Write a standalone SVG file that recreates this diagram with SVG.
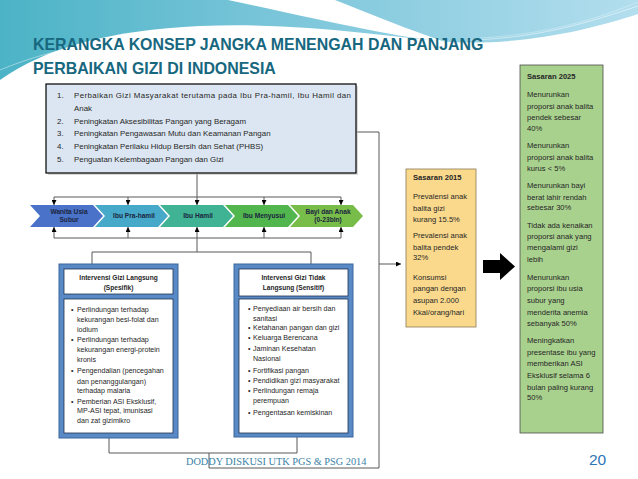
<svg xmlns="http://www.w3.org/2000/svg" width="638" height="479" viewBox="0 0 638 479">
<defs>
<linearGradient id="bandGrad" x1="0" y1="0" x2="1" y2="0">
<stop offset="0" stop-color="#4cb3c6"/>
<stop offset="0.45" stop-color="#7cc6da"/>
<stop offset="1" stop-color="#b3deee"/>
</linearGradient>
<marker id="arr" viewBox="0 0 6 6" refX="6" refY="3" markerWidth="5" markerHeight="5" markerUnits="userSpaceOnUse" orient="auto">
<path d="M0,0 L6,3 L0,6 Z" fill="#000"/>
</marker>
</defs>
<style>
.ln{fill:none;stroke:#595959;stroke-width:1}
.t{font-family:"Liberation Sans",Arial,sans-serif;fill:#262626}
.b{font-weight:bold}
.title{font-family:"Liberation Sans",Arial,sans-serif;font-weight:bold;font-size:15.9px;fill:#17677f}
.lst{font-size:7.9px}
.bl{font-size:7.1px}
.sm{font-size:7.6px}
.hd{font-size:6.6px;font-weight:bold;text-anchor:middle}
.ch{font-size:6.6px;font-weight:bold;text-anchor:middle;fill:#1a2540}
.outer{fill:#5a8ac6;stroke:#3b669c;stroke-width:1}
.inner{fill:#fff;stroke:#1f3350;stroke-width:0.8}
</style>
<rect width="638" height="479" fill="#fff"/>
<!-- background swoosh -->
<path d="M0,0 H638 V14 C590,30 520,46 450,42 C380,36 300,22 200,26 C110,30 45,48 0,80 Z" fill="url(#bandGrad)"/>
<path d="M228,0 L335,0 C370,14 410,30 445,42 C400,38 330,22 228,0 Z" fill="#fff"/>
<path d="M0,70 C60,45 130,34 230,32" fill="none" stroke="#fff" stroke-width="0.6" opacity="0.7"/>
<path d="M470,40 C540,38 590,22 638,6" fill="none" stroke="#fff" stroke-width="0.6" opacity="0.8"/>
<path d="M480,38 C550,34 600,18 638,2" fill="none" stroke="#fff" stroke-width="0.5" opacity="0.6"/>
<g id="title">
<text class="title" x="33" y="50">KERANGKA KONSEP JANGKA MENENGAH DAN PANJANG</text>
<text class="title" x="33" y="74">PERBAIKAN GIZI DI INDONESIA</text>
</g>
<g id="connectors">
<path class="ln" d="M197,173 V197 M54,197 H341 M197,238 V252 M54,238 H341 M92,252 H311 M92,252 V264 M311,252 V264 M109,438 V453 H297 V437 M209,453 V468 H379 V132 H356"/>
<path class="ln" d="M54,197 V205" marker-end="url(#arr)"/>
<path class="ln" d="M128,197 V205" marker-end="url(#arr)"/>
<path class="ln" d="M197,197 V205" marker-end="url(#arr)"/>
<path class="ln" d="M264,197 V205" marker-end="url(#arr)"/>
<path class="ln" d="M341,197 V205" marker-end="url(#arr)"/>
<path class="ln" d="M54,238 V227" marker-end="url(#arr)"/>
<path class="ln" d="M128,238 V227" marker-end="url(#arr)"/>
<path class="ln" d="M197,238 V227" marker-end="url(#arr)"/>
<path class="ln" d="M264,238 V227" marker-end="url(#arr)"/>
<path class="ln" d="M341,238 V227" marker-end="url(#arr)"/>
<path class="ln" d="M379,264 H401" marker-end="url(#arr)"/>
</g>
<g id="goals">
<rect x="48" y="86" width="310" height="89" fill="#bfbfbf" opacity="0.6"/>
<rect x="46" y="84" width="310" height="89" fill="#dce6f2" stroke="#000" stroke-width="1.2"/>
<text class="t lst" x="57" y="98">1.</text><text class="t lst" x="74" y="98" textLength="277" lengthAdjust="spacing">Perbaikan Gizi Masyarakat terutama pada Ibu Pra-hamil, Ibu Hamil dan</text>
<text class="t lst" x="74" y="111">Anak</text>
<text class="t lst" x="57" y="124">2.</text><text class="t lst" x="74" y="124">Peningkatan Aksesibilitas Pangan yang Beragam</text>
<text class="t lst" x="57" y="136">3.</text><text class="t lst" x="74" y="136">Peningkatan Pengawasan Mutu dan Keamanan Pangan</text>
<text class="t lst" x="57" y="149">4.</text><text class="t lst" x="74" y="149">Peningkatan Perilaku Hidup Bersih dan Sehat (PHBS)</text>
<text class="t lst" x="57" y="162">5.</text><text class="t lst" x="74" y="162">Penguatan Kelembagaan Pangan dan Gizi</text>
</g>
<g id="chev-wus">
<path d="M30,205 H93 L103,216 L93,227 H30 L40,216 Z" fill="#4a72c8"/>
<text class="t ch" x="69" y="213.5">Wanita Usia</text>
<text class="t ch" x="69" y="222">Subur</text>
</g>
<g id="chev-prahamil">
<path d="M95,205 H158 L168,216 L158,227 H95 L105,216 Z" fill="#47a9c9"/>
<text class="t ch" x="134" y="218">Ibu Pra-hamil</text>
</g>
<g id="chev-hamil">
<path d="M160,205 H223 L233,216 L223,227 H160 L170,216 Z" fill="#41b395"/>
<text class="t ch" x="198" y="218">Ibu Hamil</text>
</g>
<g id="chev-menyusui">
<path d="M225,205 H288 L298,216 L288,227 H225 L235,216 Z" fill="#52b64e"/>
<text class="t ch" x="264" y="218">Ibu Menyusui</text>
</g>
<g id="chev-bayi">
<path d="M290,205 H353 L363,216 L353,227 H290 L300,216 Z" fill="#78bd4a"/>
<text class="t ch" x="328" y="213.5">Bayi dan Anak</text>
<text class="t ch" x="328" y="222">(0-23bln)</text>
</g>
<g id="spesifik">
<rect class="outer" x="59" y="264" width="119" height="174"/>
<rect class="inner" x="64" y="269" width="109" height="25"/>
<rect class="inner" x="64" y="299" width="109" height="134"/>
<text class="t hd" x="118.5" y="280">Intervensi Gizi Langsung</text>
<text class="t hd" x="118.5" y="290">(Spesifik)</text>
<g class="t bl">
<text x="71" y="312">•</text><text x="77" y="312">Perlindungan terhadap</text>
<text x="77" y="322">kekurangan besi-folat dan</text>
<text x="77" y="331.5">iodium</text>
<text x="71" y="342">•</text><text x="77" y="342">Perlindungan terhadap</text>
<text x="77" y="352">kekurangan energi-protein</text>
<text x="77" y="362">kronis</text>
<text x="71" y="373">•</text><text x="77" y="373">Pengendalian (pencegahan</text>
<text x="77" y="383.5">dan penanggulangan)</text>
<text x="77" y="393">terhadap malaria</text>
<text x="71" y="403.5">•</text><text x="77" y="403.5">Pemberian ASI Eksklusif,</text>
<text x="77" y="413">MP-ASI tepat, imunisasi</text>
<text x="77" y="423">dan zat gizimikro</text>
</g>
</g>
<g id="sensitif">
<rect class="outer" x="234" y="264" width="119" height="173"/>
<rect class="inner" x="239" y="269" width="109" height="27"/>
<rect class="inner" x="239" y="299" width="109" height="134"/>
<text class="t hd" x="293.5" y="280">Intervensi Gizi Tidak</text>
<text class="t hd" x="293.5" y="290">Langsung (Sensitif)</text>
<g class="t bl">
<text x="248" y="311">•</text><text x="253" y="311">Penyediaan air bersih dan</text>
<text x="253" y="320.5">sanitasi</text>
<text x="248" y="330">•</text><text x="253" y="330">Ketahanan pangan dan gizi</text>
<text x="248" y="339.5">•</text><text x="253" y="339.5">Keluarga Berencana</text>
<text x="248" y="351">•</text><text x="253" y="351">Jaminan Kesehatan</text>
<text x="253" y="361">Nasional</text>
<text x="248" y="373">•</text><text x="253" y="373">Fortifikasi pangan</text>
<text x="248" y="383">•</text><text x="253" y="383">Pendidikan gizi masyarakat</text>
<text x="248" y="393">•</text><text x="253" y="393">Perlindungan remaja</text>
<text x="253" y="403">perempuan</text>
<text x="248" y="414.5">•</text><text x="253" y="414.5">Pengentasan kemiskinan</text>
</g>
</g>
<g id="sasaran2015">
<rect x="406" y="169" width="70" height="158" fill="#fad98c" stroke="#8c7a55" stroke-width="0.8"/>
<g class="t sm">
<text class="b" x="413" y="180">Sasaran 2015</text>
<text x="413" y="199">Prevalensi anak</text>
<text x="413" y="211">balita gizi</text>
<text x="413" y="222">kurang 15.5%</text>
<text x="413" y="238">Prevalensi anak</text>
<text x="413" y="250">balita pendek</text>
<text x="413" y="260">32%</text>
<text x="413" y="280">Konsumsi</text>
<text x="413" y="291">pangan dengan</text>
<text x="413" y="303">asupan 2.000</text>
<text x="413" y="315">Kkal/orang/hari</text>
</g>
</g>
<g id="bigarrow">
<path d="M483,260 H500 V253 L515,266.5 L500,280 V273 H483 Z" fill="#000"/>
</g>
<g id="sasaran2025">
<rect x="520" y="65" width="83" height="368" fill="#a9d18e" stroke="#4d4d4d" stroke-width="0.8"/>
<g class="t sm">
<text class="b" x="527" y="79">Sasaran 2025</text>
<text x="527" y="97">Menurunkan</text>
<text x="527" y="108.7">proporsi anak balita</text>
<text x="527" y="119.7">pendek sebesar</text>
<text x="527" y="131">40%</text>
<text x="527" y="148">Menurunkan</text>
<text x="527" y="159.7">proporsi anak balita</text>
<text x="527" y="170.7">kurus &lt; 5%</text>
<text x="527" y="188">Menurunkan bayi</text>
<text x="527" y="199.7">berat lahir rendah</text>
<text x="527" y="210.3">sebesar 30%</text>
<text x="527" y="227.7">Tidak ada kenaikan</text>
<text x="527" y="239">proporsi anak yang</text>
<text x="527" y="250.3">mengalami gizi</text>
<text x="527" y="261.7">lebih</text>
<text x="527" y="279.5">Menurunkan</text>
<text x="527" y="291.3">proporsi ibu usia</text>
<text x="527" y="303">subur yang</text>
<text x="527" y="314.7">menderita anemia</text>
<text x="527" y="325.7">sebanyak 50%</text>
<text x="527" y="343">Meningkatkan</text>
<text x="527" y="354.7">presentase ibu yang</text>
<text x="527" y="365.7">memberikan ASI</text>
<text x="527" y="378">Eksklusif selama 6</text>
<text x="527" y="389.7">bulan paling kurang</text>
<text x="527" y="400.3">50%</text>
</g>
</g>
<g id="footer">
<text x="186" y="465" font-family="'Liberation Serif','Times New Roman',serif" font-size="10.3" fill="#3a82a6">DODDY DISKUSI UTK PGS &amp; PSG 2014</text>
<text x="589" y="465" font-family="'Liberation Sans',Arial,sans-serif" font-size="15.5" fill="#2e75b5">20</text>
</g>
</svg>
